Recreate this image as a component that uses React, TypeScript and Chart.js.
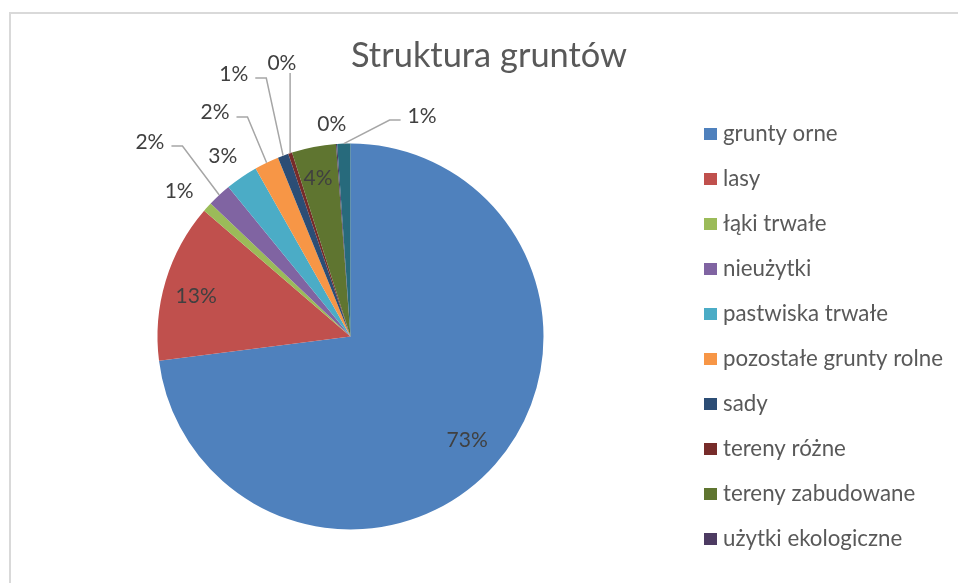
import React, { useEffect, useRef } from 'react';
import { Chart, registerables } from 'chart.js';

Chart.register(...registerables);

// ---------- data ----------
const TITLE = 'Struktura gruntów';
const categories = [
  'grunty orne',
  'lasy',
  'łąki trwałe',
  'nieużytki',
  'pastwiska trwałe',
  'pozostałe grunty rolne',
  'sady',
  'tereny różne',
  'tereny zabudowane',
  'użytki ekologiczne',
  'wody',
];
// share of total area, %
const shares = [73.0, 13.3, 0.8, 2.0, 2.72, 2.05, 0.9, 0.33, 3.7, 0.1, 1.1];
const colors = [
  '#4F81BD', '#C0504D', '#9BBB59', '#8064A2', '#4BACC6', '#F79646',
  '#2C4D75', '#772C2A', '#5F7530', '#4D3B62', '#276A7C',
];
// the legend in the picture only has room for the first 10 entries
const LEGEND_VISIBLE = 10;

// ---------- style / layout ----------
const FONT = 'Lato, "Open Sans", sans-serif';
const FRAME = { left: 9, top: 12, width: 960 };
const TITLE_SIZE = 34.4;
const TITLE_BASELINE = 67;
const LABEL_SIZE = 21;
const LEGEND_SIZE = 22.3;
const LEGEND_ROW = 45;
const LEGEND_GAP = 21;
const PIE_RADIUS = 193;

type Leader = 'none' | 'left' | 'right' | 'down';
// r: distance from centre as a fraction of the radius, da: angular shift (deg) from slice middle
const LABEL_LAYOUT: { r: number; da: number; leader: Leader }[] = [
  { r: 0.806, da: 0, leader: 'none' },
  { r: 0.827, da: -1.9, leader: 'none' },
  { r: 1.168, da: -1.6, leader: 'none' },
  { r: 1.451, da: -2.9, leader: 'left' },
  { r: 1.149, da: -0.8, leader: 'none' },
  { r: 1.359, da: -5.35, leader: 'left' },
  { r: 1.493, da: -3.45, leader: 'left' },
  { r: 1.466, da: 4.2, leader: 'down' },
  { r: 0.843, da: -0.5, leader: 'none' },
  { r: 1.11, da: -0.85, leader: 'none' },
  { r: 1.206, da: 19.9, leader: 'right' },
];

const titlePlugin = {
  id: 'frameTitle',
  afterDraw(chart: any) {
    const ctx = chart.ctx;
    ctx.save();
    ctx.font = `${TITLE_SIZE}px ${FONT}`;
    ctx.fillStyle = '#595959';
    ctx.textAlign = 'center';
    ctx.textBaseline = 'alphabetic';
    ctx.fillText(TITLE, FRAME.left + FRAME.width / 2, TITLE_BASELINE);
    ctx.restore();
  },
};

const labelPlugin = {
  id: 'pctLabels',
  afterDatasetsDraw(chart: any) {
    const ctx = chart.ctx;
    const meta = chart.getDatasetMeta(0);
    const data = chart.data.datasets[0].data as number[];
    const total = data.reduce((a, b) => a + b, 0);
    ctx.save();
    ctx.font = `${LABEL_SIZE}px ${FONT}`;
    ctx.textAlign = 'center';
    ctx.textBaseline = 'alphabetic';
    meta.data.forEach((arc: any, i: number) => {
      const { x, y, startAngle, endAngle, outerRadius } = arc.getProps(
        ['x', 'y', 'startAngle', 'endAngle', 'outerRadius'],
        true
      );
      const mid = (startAngle + endAngle) / 2;
      const lay = LABEL_LAYOUT[i];
      const a = mid + (lay.da * Math.PI) / 180;
      const lx = x + Math.cos(a) * outerRadius * lay.r;
      const ly = y + Math.sin(a) * outerRadius * lay.r;
      const text = Math.round((data[i] / total) * 100) + '%';
      const w = ctx.measureText(text).width;
      if (lay.leader !== 'none') {
        const px = x + Math.cos(mid) * outerRadius;
        const py = y + Math.sin(mid) * outerRadius;
        ctx.beginPath();
        ctx.strokeStyle = '#A6A6A6';
        ctx.lineWidth = 1.5;
        ctx.moveTo(px, py);
        if (lay.leader === 'down') {
          ctx.lineTo(px, ly + 11);
        } else {
          const dir = lay.leader === 'left' ? 1 : -1;
          const edge = lx + dir * (w / 2 + 7);
          const ey = ly + 5;
          ctx.lineTo(edge + dir * 11, ey);
          ctx.lineTo(edge, ey);
        }
        ctx.stroke();
      }
      ctx.fillStyle = '#404040';
      ctx.fillText(text, lx, ly + LABEL_SIZE * 0.36);
    });
    ctx.restore();
  },
};

const legendPlugin = {
  id: 'sideLegend',
  afterDraw(chart: any) {
    const ctx = chart.ctx;
    const area = chart.chartArea;
    const labels = chart.data.labels as string[];
    const bg = chart.data.datasets[0].backgroundColor as string[];
    const n = Math.min(LEGEND_VISIBLE, labels.length);
    const x0 = area.right + LEGEND_GAP;
    const cy = (area.top + area.bottom) / 2;
    const y0 = cy - ((n - 1) / 2) * LEGEND_ROW;
    ctx.save();
    ctx.font = `${LEGEND_SIZE}px ${FONT}`;
    ctx.textAlign = 'left';
    ctx.textBaseline = 'alphabetic';
    for (let i = 0; i < n; i++) {
      const ry = y0 + i * LEGEND_ROW;
      ctx.fillStyle = bg[i];
      ctx.fillRect(x0, ry - 6, 13, 12);
      ctx.fillStyle = '#595959';
      ctx.fillText(labels[i], x0 + 19, ry + 6.5);
    }
    ctx.restore();
  },
};

export default function App() {
  const canvasRef = useRef<HTMLCanvasElement | null>(null);

  useEffect(() => {
    if (!canvasRef.current) return;
    const chart = new Chart(canvasRef.current, {
      type: 'pie',
      data: {
        labels: categories,
        datasets: [
          {
            data: shares,
            backgroundColor: colors,
            borderWidth: 0,
            radius: PIE_RADIUS,
          } as any,
        ],
      },
      options: {
        responsive: false,
        animation: false,
        layout: { padding: { left: 18, right: 275, top: 90, bottom: 0 } },
        plugins: {
          legend: { display: false },
          title: { display: false },
          tooltip: { enabled: false },
        },
      },
      plugins: [titlePlugin, labelPlugin, legendPlugin],
    });
    return () => chart.destroy();
  }, []);

  return (
    <div style={{ position: 'fixed', left: 0, top: 0, width: 958, height: 583, overflow: 'hidden', background: '#fff' }}>
      <div
        style={{
          position: 'absolute',
          left: FRAME.left,
          top: FRAME.top,
          width: 1000,
          height: 1000,
          borderLeft: '2px solid #D9D9D9',
          borderTop: '2px solid #D9D9D9',
        }}
      />
      <canvas
        ref={canvasRef}
        width={958}
        height={583}
        style={{ position: 'absolute', left: 0, top: 0, width: 958, height: 583 }}
      />
    </div>
  );
}
